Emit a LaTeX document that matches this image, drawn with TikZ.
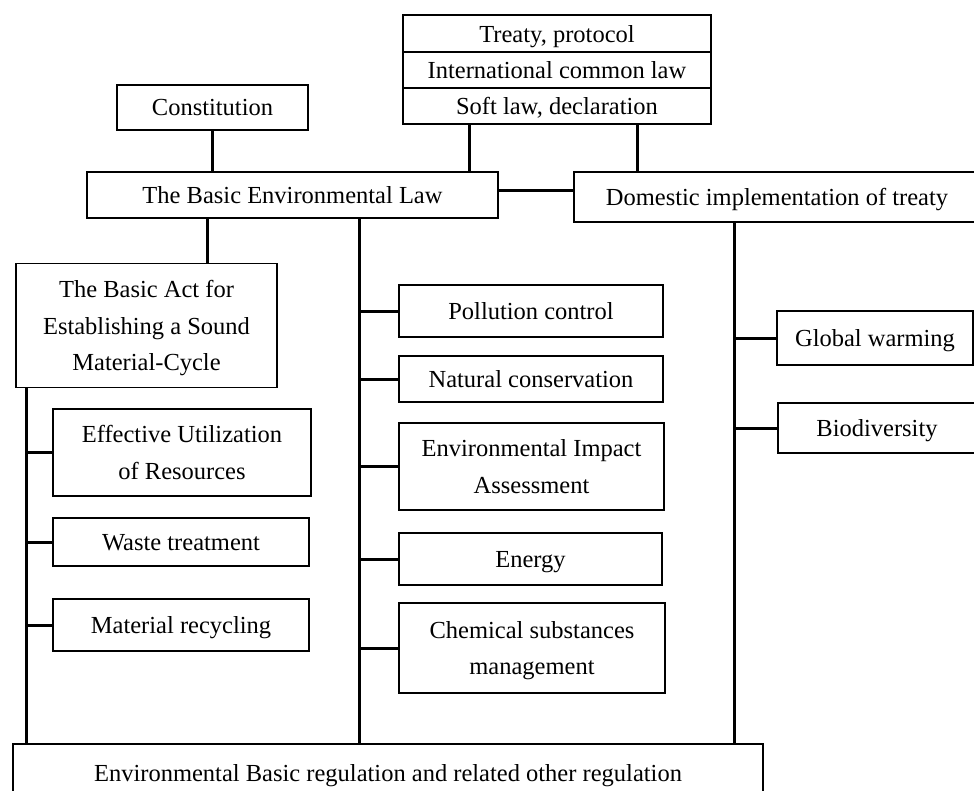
\documentclass[tikz,border=0pt]{standalone}
\usepackage{fontspec}
\setmainfont{Liberation Serif}
\usepackage{tikz}

\begin{document}
\begin{tikzpicture}[x=1pt,y=-1pt,
		lawbox/.style={draw,line width=1.5pt,inner sep=0pt,align=center,text depth=0pt,font=\fontsize{24.5}{36.5}\selectfont},
		link/.style={line width=3pt}]
		\useasboundingbox (0,0) rectangle (974,790);
		\node[lawbox,minimum width=308pt,minimum height=37pt] (treaty) at (557,33.5) {Treaty, protocol};
		\node[lawbox,minimum width=308pt,minimum height=36pt] (common) at (557,70) {International common law};
		\node[lawbox,minimum width=308pt,minimum height=36pt] (soft) at (557,106) {Soft law, declaration};
		\node[lawbox,minimum width=191pt,minimum height=45pt] (constitution) at (212.5,107.5) {Constitution};
		\node[lawbox,minimum width=411pt,minimum height=46pt] (basiclaw) at (292.5,195) {The Basic Environmental Law};
		\node[lawbox,minimum width=406pt,minimum height=50pt] (domestic) at (777,197) {Domestic implementation of treaty};
		\node[lawbox,minimum width=261pt,minimum height=124pt] (basicact) at (146.5,325.5) {The Basic Act for\\Establishing a Sound\\Material-Cycle};
		\node[lawbox,minimum width=258pt,minimum height=87pt] (effective) at (182,452.5) {Effective Utilization\\of Resources};
		\node[lawbox,minimum width=256pt,minimum height=48pt] (waste) at (181,542) {Waste treatment};
		\node[lawbox,minimum width=256pt,minimum height=52pt] (recycling) at (181,625) {Material recycling};
		\node[lawbox,minimum width=264pt,minimum height=52pt] (pollution) at (531,311) {Pollution control};
		\node[lawbox,minimum width=264pt,minimum height=46pt] (conservation) at (531,379) {Natural conservation};
		\node[lawbox,minimum width=265pt,minimum height=87pt] (eia) at (531.5,466.5) {Environmental Impact\\Assessment};
		\node[lawbox,minimum width=263pt,minimum height=52pt] (energy) at (530.5,559) {Energy};
		\node[lawbox,minimum width=266pt,minimum height=90pt] (chemical) at (532,648) {Chemical substances\\management};
		\node[lawbox,minimum width=196pt,minimum height=54pt] (warming) at (875,338) {Global warming};
		\node[lawbox,minimum width=198pt,minimum height=50pt] (biodiversity) at (877,428) {Biodiversity};
		\node[lawbox,minimum width=750pt,minimum height=58pt] (regulation) at (388,773) {Environmental Basic regulation and related other regulation};
		\coordinate (treatyleft) at ([xshift=-88pt]soft.south);
		\coordinate (treatyright) at ([xshift=80pt]soft.south);
		\coordinate (actlink) at ([xshift=-85.5pt]basiclaw.south);
		\coordinate (leftspine) at ([xshift=11pt]basicact.south west);
		\coordinate (midspine) at ([xshift=66.5pt]basiclaw.south);
		\coordinate (rightspine) at ([xshift=-43pt]domestic.south);
		\draw[link] (constitution.south) -- (constitution.south |- basiclaw.north);
		\draw[link] (treatyleft) -- (treatyleft |- basiclaw.north);
		\draw[link] (treatyright) -- (treatyright |- domestic.north);
		\draw[link] ([yshift=5pt]basiclaw.east) -- ([yshift=5pt]basiclaw.east -| domestic.west);
		\draw[link] (actlink) -- (actlink |- basicact.north);
		\draw[link] (leftspine) -- (leftspine |- regulation.north);
		\draw[link] (midspine) -- (midspine |- regulation.north);
		\draw[link] (rightspine) -- (rightspine |- regulation.north);
		\foreach \n in {effective,waste,recycling}
			\draw[link] (\n.west) -- (\n.west -| leftspine);
		\foreach \n in {pollution,conservation,eia,energy,chemical}
			\draw[link] (\n.west) -- (\n.west -| midspine);
		\foreach \n in {warming,biodiversity}
			\draw[link] (\n.west) -- (\n.west -| rightspine);
	\end{tikzpicture}
\end{document}
